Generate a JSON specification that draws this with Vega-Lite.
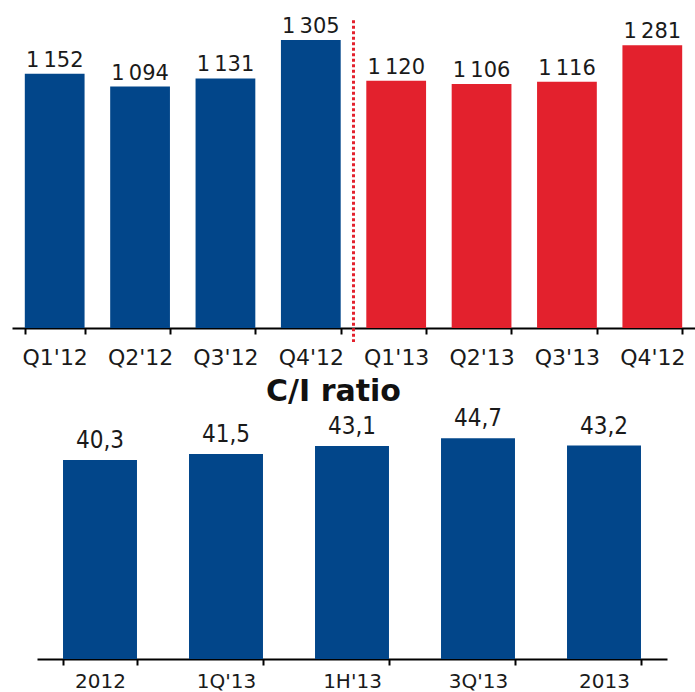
{
  "$schema": "https://vega.github.io/schema/vega-lite/v6.json",
  "padding": {"left": 12, "top": 8, "right": 0, "bottom": 0},
  "autosize": {"type": "pad"},
  "spacing": 9,
  "config": {
    "locale": {
      "number": {"decimal": ",", "thousands": "\u2009", "grouping": [3], "currency": ["", ""]}
    },
    "view": {"stroke": null},
    "font": "DejaVu Sans",
    "axis": {
      "domainColor": "#000000",
      "domainWidth": 2,
      "tickColor": "#000000",
      "tickWidth": 2,
      "tickSize": 6,
      "labelColor": "#1a1a1a",
      "labelFont": "DejaVu Sans",
      "grid": false,
      "title": null,
      "labelAngle": 0,
      "tickBand": "extent"
    }
  },
  "vconcat": [
    {
      "width": 683,
      "height": 320,
      "data": {
        "values": [
          {"quarter": "Q1'12", "year": "2012", "value": 1152},
          {"quarter": "Q2'12", "year": "2012", "value": 1094},
          {"quarter": "Q3'12", "year": "2012", "value": 1131},
          {"quarter": "Q4'12", "year": "2012", "value": 1305},
          {"quarter": "Q1'13", "year": "2013", "value": 1120},
          {"quarter": "Q2'13", "year": "2013", "value": 1106},
          {"quarter": "Q3'13", "year": "2013", "value": 1116},
          {"quarter": "Q4'13", "year": "2013", "value": 1281}
        ]
      },
      "encoding": {
        "x": {
          "field": "quarter",
          "type": "nominal",
          "sort": null,
          "scale": {"paddingInner": 0.3, "paddingOuter": 0.15},
          "axis": {
            "labelFontSize": 22,
            "labelPadding": 13,
            "labelExpr": "isValid(datum.value) ? replace(datum.value, \"Q4'13\", \"Q4'12\") : ''"
          }
        },
        "y": {
          "field": "value",
          "type": "quantitative",
          "scale": {"domain": [0, 1450]},
          "axis": null
        }
      },
      "layer": [
        {
          "mark": {"type": "bar"},
          "encoding": {
            "color": {
              "field": "year",
              "type": "nominal",
              "scale": {"domain": ["2012", "2013"], "range": ["#02468a", "#e3212d"]},
              "legend": null
            }
          }
        },
        {
          "mark": {"type": "text", "baseline": "alphabetic", "dy": -7, "fontSize": 21, "color": "#1a1a1a"},
          "encoding": {
            "text": {"field": "value", "type": "quantitative", "format": ","}
          }
        },
        {
          "transform": [{"filter": {"field": "quarter", "equal": "Q1'13"}}],
          "mark": {"type": "rule", "color": "#e3212d", "strokeWidth": 3, "strokeDash": [3, 2.5]},
          "encoding": {
            "x": {"field": "quarter", "type": "nominal", "bandPosition": -0.2143},
            "y": {"datum": 1395, "scale": {"domain": [0, 1450]}},
            "y2": {"datum": -63}
          }
        }
      ]
    },
    {
      "width": 655,
      "height": 247,
      "title": {
        "text": "C/I ratio",
        "fontSize": 30,
        "fontWeight": "bold",
        "font": "DejaVu Sans",
        "color": "#111111",
        "dx": -6,
        "offset": 0
      },
      "data": {
        "values": [
          {"period": "2012", "ratio": 40.3},
          {"period": "1Q'13", "ratio": 41.5},
          {"period": "1H'13", "ratio": 43.1},
          {"period": "3Q'13", "ratio": 44.7},
          {"period": "2013", "ratio": 43.2}
        ]
      },
      "encoding": {
        "x": {
          "field": "period",
          "type": "nominal",
          "sort": null,
          "scale": {"range": [25, 655], "paddingInner": 0.413, "paddingOuter": 0.2065},
          "axis": {"labelFontSize": 20, "labelPadding": 6}
        },
        "y": {
          "field": "ratio",
          "type": "quantitative",
          "scale": {"domain": [0, 50]},
          "axis": null
        }
      },
      "layer": [
        {"mark": {"type": "bar", "color": "#02468a"}},
        {
          "mark": {
            "type": "text",
            "baseline": "alphabetic",
            "dy": -12,
            "fontSize": 24,
            "font": "Liberation Sans Narrow, DejaVu Sans Condensed, sans-serif",
            "color": "#1a1a1a"
          },
          "encoding": {
            "text": {"field": "ratio", "type": "quantitative", "format": ".1f"}
          }
        }
      ]
    }
  ]
}
